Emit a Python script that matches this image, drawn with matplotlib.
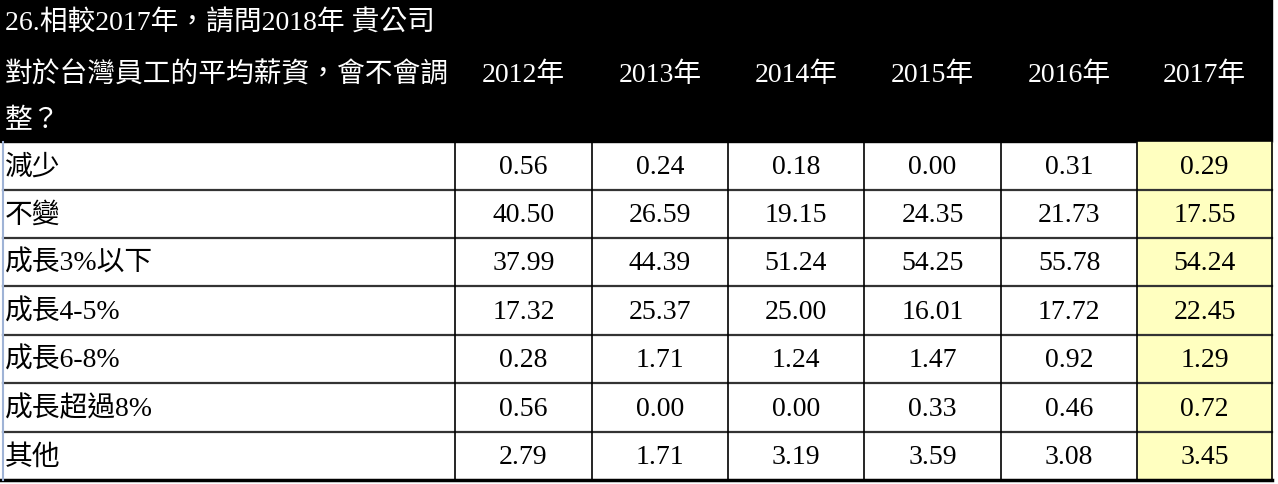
import numpy as np
import matplotlib.pyplot as plt
from matplotlib.patches import Rectangle

title_lines = ["26.相較2017年，請問2018年 貴公司", "對於台灣員工的平均薪資，會不會調", "整？"]
years = ["2012年", "2013年", "2014年", "2015年", "2016年", "2017年"]
row_labels = ["減少", "不變", "成長3%以下", "成長4-5%", "成長6-8%", "成長超過8%", "其他"]
v2012 = [0.56, 40.50, 37.99, 17.32, 0.28, 0.56, 2.79]
v2013 = [0.24, 26.59, 44.39, 25.37, 1.71, 0.00, 1.71]
v2014 = [0.18, 19.15, 51.24, 25.00, 1.24, 0.00, 3.19]
v2015 = [0.00, 24.35, 54.25, 16.01, 1.47, 0.33, 3.59]
v2016 = [0.31, 21.73, 55.78, 17.72, 0.92, 0.46, 3.08]
v2017 = [0.29, 17.55, 54.24, 22.45, 1.29, 0.72, 3.45]
values = np.array([v2012, v2013, v2014, v2015, v2016, v2017]).T

W, H = 1278, 485
fonts = ['Liberation Serif', 'Noto Sans CJK TC', 'DejaVu Sans']
fs = 20

# layout in pixels
col_edges = [455, 592, 728, 864, 1001, 1137, 1272]
row_edges = [143, 191, 239, 287, 336, 384, 433, 481]
left = 3

fig = plt.figure(figsize=(W / 100, H / 100), dpi=100)
ax = fig.add_axes([0, 0, 1, 1])
ax.set_xlim(0, W)
ax.set_ylim(H, 0)
ax.axis("off")

# header
ax.add_patch(Rectangle((0, 0), col_edges[-1], row_edges[0], color='black', zorder=1))
for y, line in zip([23, 75, 122], title_lines):
    ax.text(5, y, line, color='white', fontsize=fs, family=fonts, va='center', ha='left', zorder=3)
for j, yr in enumerate(years):
    cx = (col_edges[j] + col_edges[j + 1]) / 2
    ax.text(cx, 75, yr, color='white', fontsize=fs, family=fonts, va='center', ha='center', zorder=3)

# highlighted last column
ax.add_patch(Rectangle((col_edges[-2], row_edges[0]), col_edges[-1] - col_edges[-2],
                       row_edges[-1] - row_edges[0], color='#ffffc0', zorder=1))

# body text
for i, lab in enumerate(row_labels):
    cy = (row_edges[i] + row_edges[i + 1]) / 2 + 1
    ax.text(5, cy, lab, color='black', fontsize=fs, family=fonts, va='center', ha='left', zorder=3)
    for j in range(len(years)):
        cx = (col_edges[j] + col_edges[j + 1]) / 2
        ax.text(cx, cy, f"{values[i, j]:.2f}", color='black', fontsize=fs, family=fonts,
                va='center', ha='center', zorder=3)

# grid lines
for y in row_edges[1:-1]:
    ax.plot([left, col_edges[-1]], [y, y], color='#333333', lw=1.6, zorder=2)
ax.plot([0, col_edges[-1]], [row_edges[-1], row_edges[-1]], color='black', lw=2.5, zorder=2)
for x in col_edges:
    ax.plot([x, x], [row_edges[0], row_edges[-1]], color='black', lw=1.2, zorder=2)
ax.plot([left, left], [row_edges[0], row_edges[-1]], color='#9fb3d6', lw=1.5, zorder=2)

fig.savefig('out.png', dpi=100)
